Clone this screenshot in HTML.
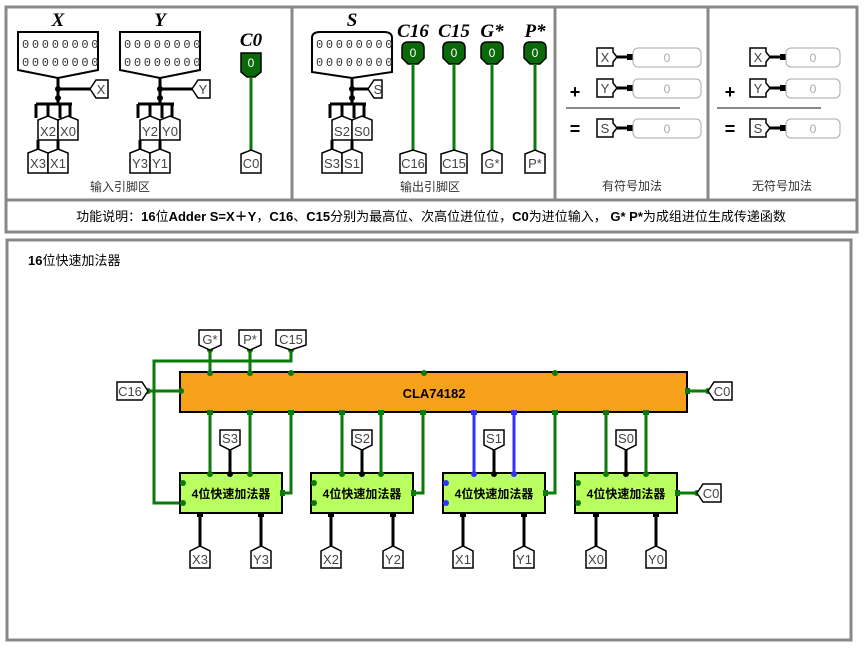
<!DOCTYPE html>
<html><head><meta charset="utf-8"><style>
html,body{margin:0;padding:0;background:#fff;width:865px;height:650px;overflow:hidden}
svg{display:block}
text{font-family:"Liberation Sans","Noto Sans CJK SC",sans-serif}
.t{font-size:13px;fill:#444}
.tag{fill:#fff;stroke:#000;stroke-width:1.5}
.g{stroke:#0a7a0a;stroke-width:3;fill:none}
.b{stroke:#000;stroke-width:3;fill:none}
.bl{stroke:#3333ff;stroke-width:3;fill:none}
.d{font-family:"Liberation Mono",monospace;font-size:12px;fill:#333}
.it{font-family:"Liberation Serif",serif;font-style:italic;font-weight:bold;font-size:19px;fill:#000}
.cn{font-size:12px;fill:#333}
</style></head><body>
<svg width="865" height="650" viewBox="0 0 865 650" xmlns="http://www.w3.org/2000/svg">
<rect x="6" y="7" width="851" height="193" fill="#fff" stroke="#888" stroke-width="3"/>
<line x1="292" y1="7" x2="292" y2="200" stroke="#888" stroke-width="3"/>
<line x1="555" y1="7" x2="555" y2="200" stroke="#888" stroke-width="3"/>
<line x1="708" y1="7" x2="708" y2="200" stroke="#888" stroke-width="3"/>
<rect x="6" y="200" width="851" height="32" fill="#fff" stroke="#888" stroke-width="3"/>
<text x="431" y="221" text-anchor="middle" style="font-size:13px" fill="#000">功能说明：<tspan font-weight="bold">16</tspan>位<tspan font-weight="bold">Adder  S=X＋Y</tspan>，<tspan font-weight="bold">C16</tspan>、<tspan font-weight="bold">C15</tspan>分别为最高位、次高位进位位，<tspan font-weight="bold">C0</tspan>为进位输入， <tspan font-weight="bold">G* P*</tspan>为成组进位生成传递函数</text>
<rect x="7" y="240" width="844" height="400" fill="#fff" stroke="#888" stroke-width="3"/>
<text x="28" y="265" style="font-size:13px" fill="#000"><tspan font-weight="bold">16</tspan>位快速加法器</text>

<path d="M18 32 H98 V70 L58 78 L18 70 Z" fill="#fff" stroke="#000" stroke-width="2"/>
<text x="58" y="26" text-anchor="middle" class="it">X</text>
<text x="22" y="48" class="d" letter-spacing="2.7">00000000</text>
<text x="22" y="66" class="d" letter-spacing="2.7">00000000</text>
<path d="M120 32 H200 V70 L160 78 L120 70 Z" fill="#fff" stroke="#000" stroke-width="2"/>
<text x="160" y="26" text-anchor="middle" class="it">Y</text>
<text x="124" y="48" class="d" letter-spacing="2.7">00000000</text>
<text x="124" y="66" class="d" letter-spacing="2.7">00000000</text>
<path class="b" d="M58 78 V104 M58 89 H90 M36 104 H72 M36 104 V118 M48 104 V118 M60 104 V118 M70 104 V118 M38 140 V150 M58 140 V150"/>
<circle cx="58" cy="89" r="3"/><circle cx="58" cy="98" r="3"/>
<polygon class="tag" points="90,89 96,80 108,80 108,98 96,98"/><text x="101" y="94" text-anchor="middle" class="t">X</text>
<polygon class="tag" points="38,120 48,116 58,120 58,140 38,140"/><text x="48" y="136" text-anchor="middle" class="t">X2</text>
<polygon class="tag" points="58,120 68,116 78,120 78,140 58,140"/><text x="68" y="136" text-anchor="middle" class="t">X0</text>
<polygon class="tag" points="28,153 38,149 48,153 48,173 28,173"/><text x="38" y="168" text-anchor="middle" class="t">X3</text>
<polygon class="tag" points="48,153 58,149 68,153 68,173 48,173"/><text x="58" y="168" text-anchor="middle" class="t">X1</text>
<path class="b" d="M160 78 V104 M160 89 H192 M138 104 H174 M138 104 V118 M150 104 V118 M162 104 V118 M172 104 V118 M140 140 V150 M160 140 V150"/>
<circle cx="160" cy="89" r="3"/><circle cx="160" cy="98" r="3"/>
<polygon class="tag" points="192,89 198,80 210,80 210,98 198,98"/><text x="203" y="94" text-anchor="middle" class="t">Y</text>
<polygon class="tag" points="140,120 150,116 160,120 160,140 140,140"/><text x="150" y="136" text-anchor="middle" class="t">Y2</text>
<polygon class="tag" points="160,120 170,116 180,120 180,140 160,140"/><text x="170" y="136" text-anchor="middle" class="t">Y0</text>
<polygon class="tag" points="130,153 140,149 150,153 150,173 130,173"/><text x="140" y="168" text-anchor="middle" class="t">Y3</text>
<polygon class="tag" points="150,153 160,149 170,153 170,173 150,173"/><text x="160" y="168" text-anchor="middle" class="t">Y1</text>
<text x="251" y="46" text-anchor="middle" class="it">C0</text>
<path d="M241 53 H261 V72 L255 77 H247 L241 72 Z" fill="#0a6a0a" stroke="#000" stroke-width="1.5"/>
<text x="251" y="67" text-anchor="middle" style="font-size:12px" fill="#fff">0</text>
<path class="g" d="M251 77 V152"/>
<polygon class="tag" points="241,154 251,150 261,154 261,173 241,173"/><text x="251" y="168" text-anchor="middle" class="t">C0</text>
<text x="120" y="191" text-anchor="middle" class="cn">输入引脚区</text>

<path d="M312 38 Q312 32 320 32 H384 Q392 32 392 38 V72 L352 78 L312 72 Z" fill="#fff" stroke="#000" stroke-width="2"/>
<text x="352" y="26" text-anchor="middle" class="it">S</text>
<text x="316" y="48" class="d" letter-spacing="2.7">00000000</text>
<text x="316" y="66" class="d" letter-spacing="2.7">00000000</text>
<path class="b" d="M352 78 V104 M352 89 H368 M330 104 H366 M330 104 V118 M342 104 V118 M354 104 V118 M364 104 V118 M332 140 V150 M352 140 V150"/>
<circle cx="352" cy="89" r="3"/><circle cx="352" cy="98" r="3"/>
<polygon class="tag" points="368,89 374,80 382,80 382,98 374,98"/><text x="378" y="94" text-anchor="middle" class="t">S</text>
<polygon class="tag" points="332,120 342,116 352,120 352,140 332,140"/><text x="342" y="136" text-anchor="middle" class="t">S2</text>
<polygon class="tag" points="352,120 362,116 372,120 372,140 352,140"/><text x="362" y="136" text-anchor="middle" class="t">S0</text>
<polygon class="tag" points="322,153 332,149 342,153 342,173 322,173"/><text x="332" y="168" text-anchor="middle" class="t">S3</text>
<polygon class="tag" points="342,153 352,149 362,153 362,173 342,173"/><text x="352" y="168" text-anchor="middle" class="t">S1</text>
<g>
<text x="413" y="37" text-anchor="middle" class="it">C16</text>
<path d="M402 48 Q402 42 408 42 H418 Q424 42 424 48 V58 L418 64 H408 L402 58 Z" fill="#0a6a0a" stroke="#000" stroke-width="1.5"/>
<text x="413" y="57" text-anchor="middle" style="font-size:12px" fill="#fff">0</text>
<path class="g" d="M413 64 V152"/>
<polygon class="tag" points="400,154 413,150 426,154 426,173 400,173"/><text x="413" y="168" text-anchor="middle" class="t">C16</text>
</g>
<g>
<text x="454" y="37" text-anchor="middle" class="it">C15</text>
<path d="M443 48 Q443 42 449 42 H459 Q465 42 465 48 V58 L459 64 H449 L443 58 Z" fill="#0a6a0a" stroke="#000" stroke-width="1.5"/>
<text x="454" y="57" text-anchor="middle" style="font-size:12px" fill="#fff">0</text>
<path class="g" d="M454 64 V152"/>
<polygon class="tag" points="441,154 454,150 467,154 467,173 441,173"/><text x="454" y="168" text-anchor="middle" class="t">C15</text>
</g>
<g>
<text x="492" y="37" text-anchor="middle" class="it">G*</text>
<path d="M481 48 Q481 42 487 42 H497 Q503 42 503 48 V58 L497 64 H487 L481 58 Z" fill="#0a6a0a" stroke="#000" stroke-width="1.5"/>
<text x="492" y="57" text-anchor="middle" style="font-size:12px" fill="#fff">0</text>
<path class="g" d="M492 64 V152"/>
<polygon class="tag" points="482,154 492,150 502,154 502,173 482,173"/><text x="492" y="168" text-anchor="middle" class="t">G*</text>
</g>
<g>
<text x="535" y="37" text-anchor="middle" class="it">P*</text>
<path d="M524 48 Q524 42 530 42 H540 Q546 42 546 48 V58 L540 64 H530 L524 58 Z" fill="#0a6a0a" stroke="#000" stroke-width="1.5"/>
<text x="535" y="57" text-anchor="middle" style="font-size:12px" fill="#fff">0</text>
<path class="g" d="M535 64 V152"/>
<polygon class="tag" points="525,154 535,150 545,154 545,173 525,173"/><text x="535" y="168" text-anchor="middle" class="t">P*</text>
</g>
<text x="430" y="191" text-anchor="middle" class="cn">输出引脚区</text>

<g>
<polygon class="tag" points="597,48 613,48 613,52 617,57 613,62 613,66 597,66"/><text x="605" y="62" text-anchor="middle" class="t">X</text>
<path class="b" d="M617 57 H630"/><rect x="627" y="54" width="6" height="6"/>
<rect x="633" y="48" width="68" height="19" rx="5" fill="#fff" stroke="#aaa"/><text x="667" y="62" text-anchor="middle" style="font-size:12px;fill:#aaa">0</text>
<polygon class="tag" points="597,79 613,79 613,83 617,88 613,93 613,97 597,97"/><text x="605" y="93" text-anchor="middle" class="t">Y</text>
<path class="b" d="M617 88 H630"/><rect x="627" y="85" width="6" height="6"/>
<rect x="633" y="79" width="68" height="19" rx="5" fill="#fff" stroke="#aaa"/><text x="667" y="93" text-anchor="middle" style="font-size:12px;fill:#aaa">0</text>
<text x="575" y="98" text-anchor="middle" style="font-size:18px;font-weight:bold" fill="#000">+</text>
<line x1="566" y1="108" x2="680" y2="108" stroke="#888" stroke-width="2"/>
<polygon class="tag" points="597,119 613,119 613,123 617,128 613,133 613,137 597,137"/><text x="605" y="133" text-anchor="middle" class="t">S</text>
<path class="b" d="M617 128 H630"/><rect x="627" y="125" width="6" height="6"/>
<rect x="633" y="119" width="68" height="19" rx="5" fill="#fff" stroke="#aaa"/><text x="667" y="133" text-anchor="middle" style="font-size:12px;fill:#aaa">0</text>
<text x="575" y="135" text-anchor="middle" style="font-size:18px;font-weight:bold" fill="#000">=</text>
<text x="632" y="190" text-anchor="middle" class="cn">有符号加法</text>
</g>
<g transform="translate(139,0)">
<polygon class="tag" points="611,48 627,48 627,52 631,57 627,62 627,66 611,66"/><text x="619" y="62" text-anchor="middle" class="t">X</text>
<path class="b" d="M631 57 H644"/><rect x="641" y="54" width="6" height="6"/>
<rect x="647" y="48" width="54" height="19" rx="5" fill="#fff" stroke="#aaa"/><text x="674" y="62" text-anchor="middle" style="font-size:12px;fill:#aaa">0</text>
<polygon class="tag" points="611,79 627,79 627,83 631,88 627,93 627,97 611,97"/><text x="619" y="93" text-anchor="middle" class="t">Y</text>
<path class="b" d="M631 88 H644"/><rect x="641" y="85" width="6" height="6"/>
<rect x="647" y="79" width="54" height="19" rx="5" fill="#fff" stroke="#aaa"/><text x="674" y="93" text-anchor="middle" style="font-size:12px;fill:#aaa">0</text>
<text x="591" y="98" text-anchor="middle" style="font-size:18px;font-weight:bold" fill="#000">+</text>
<line x1="578" y1="108" x2="682" y2="108" stroke="#888" stroke-width="2"/>
<polygon class="tag" points="611,119 627,119 627,123 631,128 627,133 627,137 611,137"/><text x="619" y="133" text-anchor="middle" class="t">S</text>
<path class="b" d="M631 128 H644"/><rect x="641" y="125" width="6" height="6"/>
<rect x="647" y="119" width="54" height="19" rx="5" fill="#fff" stroke="#aaa"/><text x="674" y="133" text-anchor="middle" style="font-size:12px;fill:#aaa">0</text>
<text x="591" y="135" text-anchor="middle" style="font-size:18px;font-weight:bold" fill="#000">=</text>
<text x="643" y="190" text-anchor="middle" class="cn">无符号加法</text>
</g>

<path class="g" d="M210 350 V373 M250 350 V373 M291 350 V361 H154 V503 H181 M148 391 H181 M686 391 H708"/>
<path class="g" d="M210 412 V474 M250 412 V474 M291 412 V493 H282 M342 412 V474 M381 412 V474 M423 412 V493 H413 M555 412 V493 H545 M606 412 V474 M646 412 V474 M677 493 H697"/>
<path class="bl" d="M474 412 V474 M514 412 V474"/>
<path class="b" d="M230 450 V474 M362 450 V474 M494 450 V474 M626 450 V474"/>
<path class="b" d="M200 513 V547 M261 513 V547 M331 513 V547 M393 513 V547 M463 513 V547 M524 513 V547 M596 513 V547 M656 513 V547"/>
<rect x="180" y="372" width="507" height="40" fill="#f7a11a" stroke="#000" stroke-width="2"/>
<text x="434" y="398" text-anchor="middle" style="font-size:13px;font-weight:bold" fill="#000">CLA74182</text>
<g style="font-size:12px;font-weight:bold">
<rect x="180" y="473" width="102" height="40" fill="#b9ff5e" stroke="#000" stroke-width="2"/><text x="231" y="498" text-anchor="middle" fill="#000">4位快速加法器</text>
<rect x="311" y="473" width="102" height="40" fill="#b9ff5e" stroke="#000" stroke-width="2"/><text x="362" y="498" text-anchor="middle" fill="#000">4位快速加法器</text>
<rect x="443" y="473" width="102" height="40" fill="#b9ff5e" stroke="#000" stroke-width="2"/><text x="494" y="498" text-anchor="middle" fill="#000">4位快速加法器</text>
<rect x="575" y="473" width="102" height="40" fill="#b9ff5e" stroke="#000" stroke-width="2"/><text x="626" y="498" text-anchor="middle" fill="#000">4位快速加法器</text>
</g>
<g fill="#0a7a0a">
<circle cx="210" cy="373" r="3"/><circle cx="250" cy="373" r="3"/><circle cx="291" cy="373" r="3"/><circle cx="424" cy="373" r="3"/><circle cx="555" cy="373" r="3"/>
<circle cx="210" cy="350" r="3"/><circle cx="250" cy="350" r="3"/><circle cx="291" cy="350" r="3"/><circle cx="181" cy="391" r="3"/><circle cx="148" cy="391" r="3"/>
<circle cx="183" cy="483" r="3"/><circle cx="183" cy="503" r="3"/><circle cx="314" cy="483" r="3"/><circle cx="314" cy="503" r="3"/><circle cx="578" cy="483" r="3"/><circle cx="578" cy="503" r="3"/>
<circle cx="210" cy="474" r="3"/><circle cx="250" cy="474" r="3"/><circle cx="342" cy="474" r="3"/><circle cx="381" cy="474" r="3"/><circle cx="606" cy="474" r="3"/><circle cx="646" cy="474" r="3"/>
<circle cx="697" cy="493" r="3"/><circle cx="708" cy="391" r="3"/>
<rect x="207" y="410" width="6" height="5"/><rect x="247" y="410" width="6" height="5"/><rect x="288" y="410" width="6" height="5"/><rect x="339" y="410" width="6" height="5"/><rect x="378" y="410" width="6" height="5"/><rect x="420" y="410" width="6" height="5"/><rect x="552" y="410" width="6" height="5"/><rect x="603" y="410" width="6" height="5"/><rect x="643" y="410" width="6" height="5"/><rect x="685" y="388" width="5" height="6"/>
<rect x="280" y="490" width="5" height="6"/><rect x="411" y="490" width="5" height="6"/><rect x="543" y="490" width="5" height="6"/><rect x="675" y="490" width="5" height="6"/>
</g>
<g fill="#3333ff"><rect x="471" y="410" width="6" height="5"/><rect x="511" y="410" width="6" height="5"/><circle cx="474" cy="474" r="3"/><circle cx="514" cy="474" r="3"/><circle cx="446" cy="483" r="3"/><circle cx="446" cy="503" r="3"/></g>
<g fill="#000">
<circle cx="230" cy="474" r="3"/><circle cx="362" cy="474" r="3"/><circle cx="494" cy="474" r="3"/><circle cx="626" cy="474" r="3"/>
<rect x="197" y="512" width="6" height="5"/><rect x="258" y="512" width="6" height="5"/><rect x="328" y="512" width="6" height="5"/><rect x="390" y="512" width="6" height="5"/><rect x="460" y="512" width="6" height="5"/><rect x="521" y="512" width="6" height="5"/><rect x="593" y="512" width="6" height="5"/><rect x="653" y="512" width="6" height="5"/>
</g>
<polygon class="tag" points="199,330 221,330 221,345 210,350 199,345"/><text x="210" y="344" text-anchor="middle" class="t">G*</text>
<polygon class="tag" points="239,330 261,330 261,345 250,350 239,345"/><text x="250" y="344" text-anchor="middle" class="t">P*</text>
<polygon class="tag" points="276,330 306,330 306,345 291,350 276,345"/><text x="291" y="344" text-anchor="middle" class="t">C15</text>
<polygon class="tag" points="117,382 142,382 148,391 142,400 117,400"/><text x="130" y="396" text-anchor="middle" class="t">C16</text>
<polygon class="tag" points="708,391 714,382 732,382 732,400 714,400"/><text x="722" y="396" text-anchor="middle" class="t">C0</text>
<polygon class="tag" points="697,493 703,484 721,484 721,502 703,502"/><text x="711" y="498" text-anchor="middle" class="t">C0</text>
<polygon class="tag" points="220,430 240,430 240,445 230,450 220,445"/><text x="230" y="443" text-anchor="middle" class="t">S3</text>
<polygon class="tag" points="352,430 372,430 372,445 362,450 352,445"/><text x="362" y="443" text-anchor="middle" class="t">S2</text>
<polygon class="tag" points="484,430 504,430 504,445 494,450 484,445"/><text x="494" y="443" text-anchor="middle" class="t">S1</text>
<polygon class="tag" points="616,430 636,430 636,445 626,450 616,445"/><text x="626" y="443" text-anchor="middle" class="t">S0</text>
<g>
<polygon class="tag" points="190,551 200,546 210,551 210,568 190,568"/><text x="200" y="564" text-anchor="middle" class="t">X3</text>
<polygon class="tag" points="251,551 261,546 271,551 271,568 251,568"/><text x="261" y="564" text-anchor="middle" class="t">Y3</text>
<polygon class="tag" points="321,551 331,546 341,551 341,568 321,568"/><text x="331" y="564" text-anchor="middle" class="t">X2</text>
<polygon class="tag" points="383,551 393,546 403,551 403,568 383,568"/><text x="393" y="564" text-anchor="middle" class="t">Y2</text>
<polygon class="tag" points="453,551 463,546 473,551 473,568 453,568"/><text x="463" y="564" text-anchor="middle" class="t">X1</text>
<polygon class="tag" points="514,551 524,546 534,551 534,568 514,568"/><text x="524" y="564" text-anchor="middle" class="t">Y1</text>
<polygon class="tag" points="586,551 596,546 606,551 606,568 586,568"/><text x="596" y="564" text-anchor="middle" class="t">X0</text>
<polygon class="tag" points="646,551 656,546 666,551 666,568 646,568"/><text x="656" y="564" text-anchor="middle" class="t">Y0</text>
</g>
</svg>
</body></html>
